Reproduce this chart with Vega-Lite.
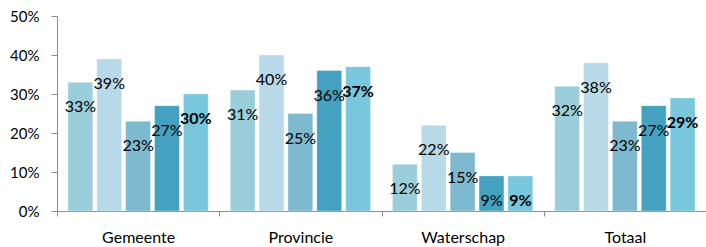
{
  "$schema": "https://vega.github.io/schema/vega-lite/v6.json",
  "autosize": {"type": "none"},
  "padding": {"left": 57, "top": 16, "right": 0, "bottom": 36},
  "width": 649,
  "height": 195,
  "background": "white",
  "config": {"view": {"stroke": null}, "font": "Lato"},
  "data": {
    "values": [
      {"groep": "Gemeente", "reeks": "s1", "waarde": 0.33},
      {"groep": "Gemeente", "reeks": "s2", "waarde": 0.39},
      {"groep": "Gemeente", "reeks": "s3", "waarde": 0.23},
      {"groep": "Gemeente", "reeks": "s4", "waarde": 0.27},
      {"groep": "Gemeente", "reeks": "s5", "waarde": 0.30},
      {"groep": "Provincie", "reeks": "s1", "waarde": 0.31},
      {"groep": "Provincie", "reeks": "s2", "waarde": 0.40},
      {"groep": "Provincie", "reeks": "s3", "waarde": 0.25},
      {"groep": "Provincie", "reeks": "s4", "waarde": 0.36},
      {"groep": "Provincie", "reeks": "s5", "waarde": 0.37},
      {"groep": "Waterschap", "reeks": "s1", "waarde": 0.12},
      {"groep": "Waterschap", "reeks": "s2", "waarde": 0.22},
      {"groep": "Waterschap", "reeks": "s3", "waarde": 0.15},
      {"groep": "Waterschap", "reeks": "s4", "waarde": 0.09},
      {"groep": "Waterschap", "reeks": "s5", "waarde": 0.09},
      {"groep": "Totaal", "reeks": "s1", "waarde": 0.32},
      {"groep": "Totaal", "reeks": "s2", "waarde": 0.38},
      {"groep": "Totaal", "reeks": "s3", "waarde": 0.23},
      {"groep": "Totaal", "reeks": "s4", "waarde": 0.27},
      {"groep": "Totaal", "reeks": "s5", "waarde": 0.29}
    ]
  },
  "encoding": {
    "x": {
      "field": "groep", "type": "nominal",
      "sort": ["Gemeente", "Provincie", "Waterschap", "Totaal"],
      "scale": {"paddingInner": 0, "paddingOuter": 0},
      "axis": {
        "title": null, "labelAngle": 0, "tickBand": "extent",
        "domainColor": "#8c8c8c", "tickColor": "#8c8c8c", "tickSize": 5,
        "labelPadding": 13, "labelFontSize": 16, "labelColor": "#000000", "labelFont": "Lato"
      }
    },
    "xOffset": {
      "field": "reeks", "type": "nominal",
      "scale": {"paddingInner": 0.138, "paddingOuter": 0.379}
    },
    "y": {
      "field": "waarde", "type": "quantitative",
      "scale": {"domain": [0, 0.5], "nice": false},
      "axis": {
        "title": null, "format": ".0%", "values": [0, 0.1, 0.2, 0.3, 0.4, 0.5],
        "grid": false, "domainColor": "#8c8c8c", "tickColor": "#8c8c8c", "tickSize": 6,
        "labelPadding": 12, "labelFontSize": 15, "labelColor": "#000000", "labelFont": "Lato"
      }
    }
  },
  "layer": [
    {
      "mark": {"type": "bar", "stroke": "#ffffff", "strokeOpacity": 0.35, "strokeWidth": 1},
      "encoding": {
        "color": {
          "field": "reeks", "type": "nominal", "legend": null,
          "scale": {
            "domain": ["s1", "s2", "s3", "s4", "s5"],
            "range": ["#9bcedb", "#b8d9e8", "#7db9cf", "#44a1bf", "#79c7dc"]
          }
        }
      }
    },
    {
      "transform": [{"filter": "datum.reeks != 's5'"}],
      "mark": {"type": "text", "baseline": "middle", "align": "center", "dy": 25, "fontSize": 16, "font": "Lato", "color": "#000000"},
      "encoding": {"text": {"field": "waarde", "type": "quantitative", "format": ".0%"}}
    },
    {
      "transform": [{"filter": "datum.reeks == 's5'"}],
      "mark": {"type": "text", "baseline": "middle", "align": "center", "dy": 25, "fontSize": 16, "font": "Lato", "fontWeight": "bold", "color": "#000000"},
      "encoding": {"text": {"field": "waarde", "type": "quantitative", "format": ".0%"}}
    }
  ]
}
